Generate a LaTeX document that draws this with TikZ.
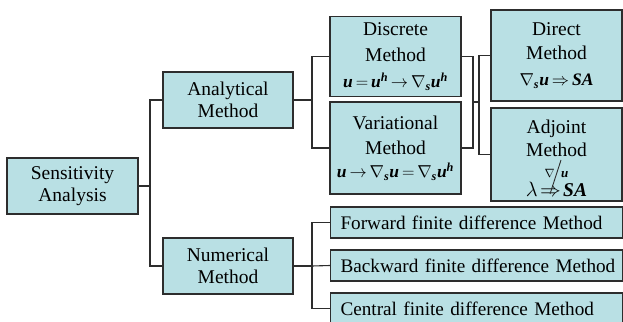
\documentclass[tikz,border=0pt]{standalone}
\usepackage{amsmath}
\usepackage{fontspec}
\setmainfont{Liberation Serif}
\usetikzlibrary{calc}
\definecolor{boxfill}{RGB}{185,224,228}
\definecolor{boxline}{RGB}{45,45,45}
\newcommand{\vu}{\text{\bfseries\itshape u}}
\newcommand{\vh}{\text{\bfseries\itshape h}}
\newcommand{\vs}{\text{\bfseries\itshape s}}
\newcommand{\vSA}{\text{\bfseries\itshape SA}}
\newcommand{\fml}[1]{{\fontsize{17.5}{22}\selectfont\thickmuskip=3mu\medmuskip=1mu$#1$}}
\begin{document}
\begin{tikzpicture}[x=1pt,y=-1pt,
  box/.style={draw=boxline, fill=boxfill, line width=1.1pt, align=center,
    inner sep=0pt, font=\fontsize{19.5}{22}\selectfont},
  widebox/.style={box, anchor=west, minimum width=292pt, minimum height=31pt,
    text width=272pt, inner xsep=10pt, align=left, font=\fontsize{19.2}{22}\selectfont},
  conn/.style={draw=boxline, line width=1.1pt}]
\clip (0,0) rectangle (623,321);
\fill[white] (0,0) rectangle (623,321);

\node[box, minimum width=131pt, minimum height=56pt] (sa) at (72.5,186) {Sensitivity\\Analysis};
\node[box, minimum width=130pt, minimum height=56pt] (am) at (228,100) {Analytical\\Method};
\node[box, minimum width=130pt, minimum height=56pt] (nm) at (228,266) {Numerical\\Method};

\node[box, minimum width=131pt, minimum height=80pt] (dm) at (395.5,56.5)
  {Discrete\\[4pt]Method\\[4pt]\fml{\vu=\vu^{\vh}\rightarrow\nabla_{\vs}\vu^{\vh}}};
\node[box, minimum width=131pt, minimum height=92pt] (vm) at (395.5,148)
  {Variational\\[3pt]Method\\[1pt]\fml{\vu\rightarrow\nabla_{\vs}\vu=\nabla_{\vs}\vu^{\vh}}};

\node[box, minimum width=131pt, minimum height=91pt] (dir) at (556.5,55.5)
  {Direct\\[2pt]Method\\[4pt]\fml{\nabla_{\vs}\vu\Rightarrow\vSA}};
\node[box, minimum width=131pt, minimum height=93pt] (adj) at (556.5,154.5)
  {\rule{0pt}{22pt}Adjoint\\[1pt]Method\\[-1pt]{\fontsize{13}{13}\selectfont$\nabla\;\;\vu$}\\[-3pt]{\thickmuskip=2mu$\lambda\Rightarrow\vSA$}};
\draw[boxline, line width=0.9pt] (550,194) -- (561,160);

\node[widebox] (fd) at (330,222.5) {\mbox{Forward finite difference Method}};
\node[widebox] (bd) at (330,265.5) {\mbox{Backward finite difference Method}};
\node[widebox] (cd) at (330,308.5) {\mbox{Central finite difference Method}};

% connectors
\coordinate (j1) at (150,186);
\draw[conn] (sa.east) -- (j1);
\draw[conn] (am.west) -| (j1) |- (nm.west);

\coordinate (j2) at (312,100);
\draw[conn] (am.east) -- (j2);
\draw[conn] (dm.west) -| (j2) |- (vm.west);

\coordinate (j3) at (473,102);
\coordinate (j4) at (479,102);
\draw[conn] (dm.east) -| (j3) |- (vm.east);
\draw[conn] (j3) -- (j4);
\draw[conn] (dir.west) -| (j4) |- (adj.west);

\coordinate (j5) at (312,266);
\draw[conn] (nm.east) -- (j5);
\draw[conn] (fd.west) -| (j5) |- (cd.west);
\draw[conn] (j5) -- (bd.west);
\end{tikzpicture}
\end{document}
